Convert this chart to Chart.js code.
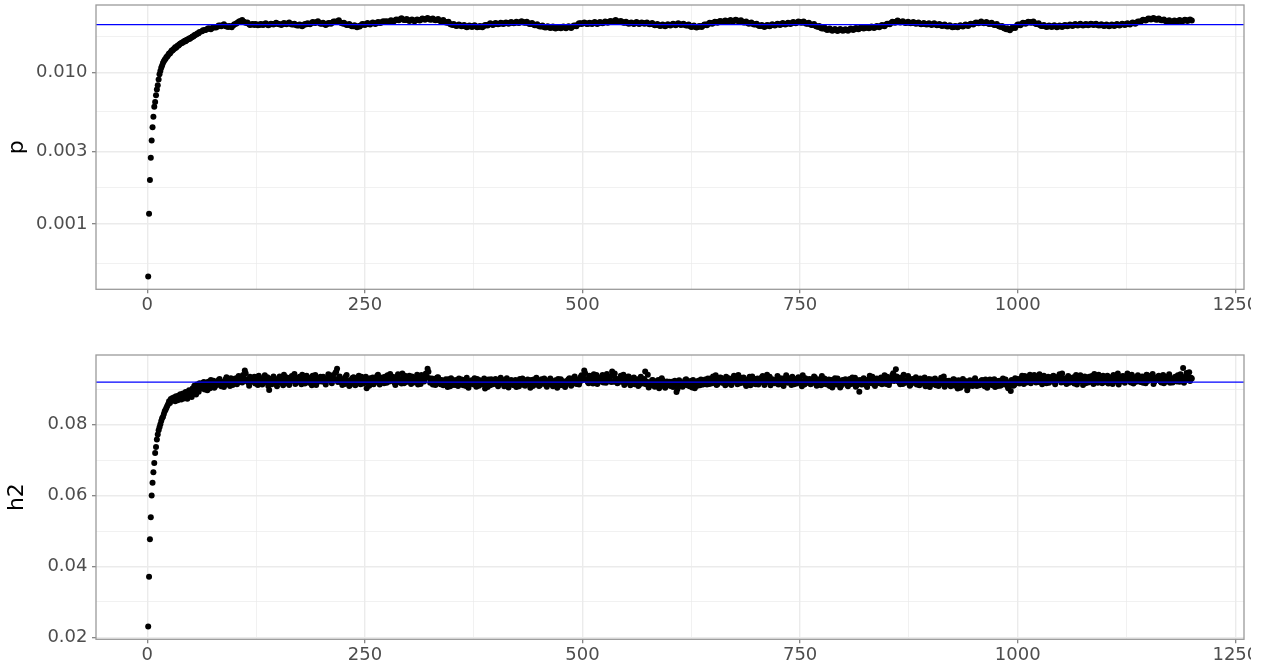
<!DOCTYPE html>
<html>
<head>
<meta charset="utf-8">
<title>MCMC trace: p and h2</title>
<script src="https://cdn.jsdelivr.net/npm/chart.js@4.4.1/dist/chart.umd.min.js"></script>
<style>
  html, body { margin: 0; padding: 0; background: #ffffff; }
  #wrap { position: relative; width: 1261px; height: 664px; overflow: hidden; background: #fff; }
  .panel { position: absolute; left: 0; width: 1251px; overflow: hidden; }
  #panelP { top: 0; height: 340px; }
  #panelH { top: 340px; height: 324px; }
  canvas { display: block; }
</style>
</head>
<body>
<div id="wrap">
  <div class="panel" id="panelP"><canvas id="chartP" width="1300" height="340"></canvas></div>
  <div class="panel" id="panelH"><canvas id="chartH" width="1300" height="324"></canvas></div>
</div>
<script>
// ---- sampler output -------------------------------------------------------
// p: every draw for iterations 1..60, then two of every three draws
// (iterations 63, 66, ... and 64, 67, ...).
const pEarly = [
  0.000453, 0.00117, 0.00195, 0.00274, 0.00356, 0.00435, 0.00509, 0.00592, 0.00638, 0.00706,
  0.00769, 0.00822, 0.00896, 0.0097, 0.0102, 0.0107, 0.0111, 0.0115, 0.0118, 0.0121,
  0.0123, 0.0126, 0.0127, 0.0130, 0.0133, 0.0133, 0.0136, 0.0139, 0.0139, 0.0142,
  0.0143, 0.0146, 0.0145, 0.0148, 0.0150, 0.0150, 0.0153, 0.0154, 0.0156, 0.0156,
  0.0158, 0.0159, 0.0161, 0.0160, 0.0163, 0.0164, 0.0165, 0.0167, 0.0166, 0.0169,
  0.0170, 0.0172, 0.0172, 0.0175, 0.0176, 0.0177, 0.0179, 0.0181, 0.0181, 0.0184
];
// iterations 63, 66, ..., 1200
const pLaterA = [
  0.0186,0.0190,0.0193,0.0194,0.0196,0.0198,0.0200,0.0203,0.0204,0.0202,
  0.0199,0.0200,0.0204,0.0209,0.0215,0.0218,0.0215,0.0211,0.0207,0.0206,
  0.0205,0.0206,0.0205,0.0207,0.0207,0.0206,0.0206,0.0208,0.0209,0.0209,
  0.0207,0.0208,0.0209,0.0210,0.0208,0.0206,0.0205,0.0203,0.0203,0.0205,
  0.0207,0.0209,0.0211,0.0213,0.0214,0.0211,0.0209,0.0207,0.0208,0.0211,
  0.0213,0.0216,0.0217,0.0213,0.0209,0.0207,0.0205,0.0203,0.0201,0.0200,
  0.0202,0.0205,0.0207,0.0208,0.0208,0.0210,0.0210,0.0211,0.0213,0.0214,
  0.0214,0.0216,0.0217,0.0218,0.0220,0.0222,0.0224,0.0223,0.0221,0.0220,
  0.0220,0.0219,0.0220,0.0221,0.0223,0.0224,0.0225,0.0224,0.0223,0.0222,
  0.0221,0.0219,0.0218,0.0215,0.0212,0.0208,0.0205,0.0204,0.0203,0.0203,
  0.0202,0.0200,0.0200,0.0201,0.0201,0.0200,0.0199,0.0200,0.0202,0.0205,
  0.0207,0.0207,0.0208,0.0209,0.0209,0.0210,0.0210,0.0211,0.0211,0.0212,
  0.0212,0.0213,0.0214,0.0214,0.0212,0.0210,0.0208,0.0206,0.0204,0.0202,
  0.0200,0.0199,0.0198,0.0198,0.0197,0.0196,0.0196,0.0197,0.0197,0.0197,
  0.0198,0.0198,0.0200,0.0203,0.0207,0.0210,0.0210,0.0210,0.0209,0.0210,
  0.0211,0.0210,0.0211,0.0212,0.0213,0.0214,0.0215,0.0216,0.0218,0.0217,
  0.0215,0.0214,0.0212,0.0211,0.0210,0.0210,0.0211,0.0210,0.0210,0.0211,
  0.0210,0.0209,0.0208,0.0206,0.0205,0.0204,0.0203,0.0203,0.0204,0.0205,
  0.0206,0.0206,0.0207,0.0207,0.0206,0.0205,0.0203,0.0201,0.0200,0.0199,
  0.0199,0.0201,0.0203,0.0206,0.0209,0.0211,0.0212,0.0214,0.0215,0.0216,
  0.0216,0.0217,0.0218,0.0218,0.0219,0.0219,0.0217,0.0215,0.0213,0.0211,
  0.0210,0.0208,0.0206,0.0204,0.0202,0.0201,0.0202,0.0203,0.0204,0.0205,
  0.0206,0.0207,0.0208,0.0208,0.0209,0.0210,0.0211,0.0212,0.0213,0.0214,
  0.0213,0.0211,0.0209,0.0207,0.0205,0.0202,0.0199,0.0196,0.0194,0.0192,
  0.0191,0.0190,0.0190,0.0189,0.0190,0.0190,0.0189,0.0190,0.0191,0.0192,
  0.0193,0.0194,0.0195,0.0196,0.0196,0.0197,0.0197,0.0198,0.0199,0.0200,
  0.0202,0.0203,0.0206,0.0209,0.0212,0.0214,0.0216,0.0215,0.0214,0.0213,
  0.0212,0.0212,0.0211,0.0211,0.0210,0.0209,0.0208,0.0208,0.0207,0.0207,
  0.0207,0.0206,0.0205,0.0204,0.0203,0.0202,0.0201,0.0200,0.0199,0.0200,
  0.0201,0.0202,0.0203,0.0204,0.0206,0.0208,0.0210,0.0212,0.0213,0.0212,
  0.0211,0.0210,0.0209,0.0207,0.0205,0.0202,0.0199,0.0196,0.0192,0.0191,
  0.0194,0.0198,0.0203,0.0206,0.0209,0.0211,0.0212,0.0214,0.0213,0.0210,
  0.0207,0.0204,0.0202,0.0201,0.0200,0.0201,0.0201,0.0200,0.0200,0.0201,
  0.0202,0.0203,0.0203,0.0204,0.0205,0.0205,0.0206,0.0205,0.0205,0.0206,
  0.0206,0.0207,0.0206,0.0205,0.0204,0.0204,0.0203,0.0203,0.0203,0.0204,
  0.0205,0.0205,0.0206,0.0207,0.0207,0.0208,0.0210,0.0211,0.0213,0.0216,
  0.0219,0.0221,0.0223,0.0225,0.0225,0.0224,0.0223,0.0222,0.0220,0.0218,
  0.0217,0.0216,0.0216,0.0217,0.0218,0.0218,0.0219,0.0220,0.0220,0.0219
];
// iterations 64, 67, ..., 1198
const pLaterB = [
  0.0189,0.0190,0.0195,0.0192,0.0199,0.0197,0.0203,0.0201,0.0207,0.0200,
  0.0202,0.0198,0.0207,0.0211,0.0217,0.0221,0.0213,0.0213,0.0205,0.0208,
  0.0208,0.0204,0.0208,0.0205,0.0210,0.0204,0.0209,0.0206,0.0212,0.0207,
  0.0205,0.0211,0.0207,0.0213,0.0206,0.0209,0.0203,0.0206,0.0201,0.0208,
  0.0210,0.0207,0.0214,0.0211,0.0217,0.0209,0.0212,0.0205,0.0211,0.0209,
  0.0216,0.0214,0.0220,0.0211,0.0212,0.0205,0.0208,0.0201,0.0204,0.0198,
  0.0200,0.0208,0.0205,0.0211,0.0206,0.0213,0.0208,0.0214,0.0211,0.0217,
  0.0217,0.0214,0.0220,0.0216,0.0223,0.0220,0.0227,0.0221,0.0224,0.0218,
  0.0223,0.0217,0.0223,0.0219,0.0226,0.0222,0.0228,0.0222,0.0226,0.0220,
  0.0224,0.0217,0.0221,0.0213,0.0215,0.0206,0.0208,0.0202,0.0206,0.0201,
  0.0205,0.0198,0.0203,0.0199,0.0204,0.0198,0.0202,0.0198,0.0205,0.0203,
  0.0210,0.0205,0.0211,0.0207,0.0212,0.0208,0.0213,0.0209,0.0214,0.0210,
  0.0215,0.0211,0.0217,0.0212,0.0215,0.0208,0.0211,0.0204,0.0207,0.0200,
  0.0203,0.0197,0.0201,0.0196,0.0200,0.0194,0.0199,0.0195,0.0200,0.0195,
  0.0201,0.0196,0.0203,0.0201,0.0210,0.0208,0.0213,0.0208,0.0212,0.0208,
  0.0214,0.0208,0.0214,0.0210,0.0216,0.0212,0.0218,0.0214,0.0221,0.0215,
  0.0218,0.0212,0.0215,0.0209,0.0213,0.0208,0.0214,0.0208,0.0213,0.0209,
  0.0213,0.0207,0.0211,0.0204,0.0208,0.0202,0.0206,0.0201,0.0207,0.0203,
  0.0209,0.0204,0.0210,0.0205,0.0209,0.0203,0.0206,0.0199,0.0203,0.0197,
  0.0202,0.0199,0.0206,0.0204,0.0212,0.0209,0.0215,0.0212,0.0218,0.0214,
  0.0219,0.0215,0.0221,0.0216,0.0222,0.0217,0.0220,0.0213,0.0216,0.0209,
  0.0213,0.0206,0.0209,0.0202,0.0205,0.0199,0.0205,0.0201,0.0207,0.0203,
  0.0209,0.0205,0.0211,0.0206,0.0212,0.0208,0.0214,0.0210,0.0216,0.0212,
  0.0216,0.0209,0.0212,0.0205,0.0208,0.0200,0.0202,0.0194,0.0197,0.0190,
  0.0194,0.0188,0.0193,0.0187,0.0193,0.0188,0.0192,0.0188,0.0194,0.0190,
  0.0196,0.0192,0.0198,0.0194,0.0199,0.0195,0.0200,0.0196,0.0202,0.0198,
  0.0205,0.0201,0.0209,0.0207,0.0215,0.0212,0.0219,0.0213,0.0217,0.0211,
  0.0215,0.0210,0.0214,0.0209,0.0213,0.0207,0.0211,0.0206,0.0210,0.0205,
  0.0210,0.0204,0.0208,0.0202,0.0206,0.0200,0.0204,0.0198,0.0202,0.0198,
  0.0204,0.0200,0.0206,0.0202,0.0209,0.0206,0.0213,0.0210,0.0216,0.0210,
  0.0214,0.0208,0.0212,0.0205,0.0208,0.0200,0.0202,0.0194,0.0195,0.0189,
  0.0197,0.0196,0.0206,0.0204,0.0212,0.0209,0.0215,0.0212,0.0216,0.0208,
  0.0210,0.0202,0.0205,0.0199,0.0203,0.0199,0.0204,0.0198,0.0203,0.0199,
  0.0205,0.0201,0.0206,0.0202,0.0208,0.0203,0.0209,0.0203,0.0208,0.0204,
  0.0209,0.0205,0.0209,0.0203,0.0207,0.0202,0.0206,0.0201,0.0206,0.0202,
  0.0208,0.0203,0.0209,0.0205,0.0210,0.0206,0.0213,0.0209,0.0216,0.0214,
  0.0222,0.0219,0.0226,0.0223,0.0228,0.0222,0.0226,0.0220,0.0223,0.0216,
  0.0220,0.0214,0.0219,0.0215,0.0221,0.0216,0.0222,0.0218,0.0223
];

// h2: every draw (1..60 burn-in, then odd and even iterations from 61 on)
const h2Early = [
  0.0231, 0.0371, 0.0477, 0.0539, 0.0600, 0.0636, 0.0666, 0.0692, 0.0720, 0.0737,
  0.0758, 0.0772, 0.0784, 0.0793, 0.0801, 0.0810, 0.0818, 0.0822, 0.0830, 0.0838,
  0.0842, 0.0848, 0.0853, 0.0858, 0.0866, 0.0861, 0.0872, 0.0868, 0.0875, 0.0870,
  0.0877, 0.0866, 0.0880, 0.0874, 0.0869, 0.0882, 0.0876, 0.0886, 0.0871, 0.0879,
  0.0888, 0.0874, 0.0884, 0.0892, 0.0880, 0.0873, 0.0889, 0.0897, 0.0883, 0.0895,
  0.0878, 0.0902, 0.0890, 0.0910, 0.0897, 0.0885, 0.0913, 0.0905, 0.0893, 0.0917
];
// even iterations 62, 64, ..., 1200
const h2Even = [
  0.0905,0.0918,0.0899,0.0912,0.0921,0.0903,0.0915,0.0924,0.0908,0.0917,
  0.0926,0.0911,0.0920,0.0906,0.0928,0.0915,0.0922,0.0931,0.0912,0.0925,
  0.0918,0.0933,0.0921,0.0929,0.0940,0.0953,0.0927,0.0919,0.0935,0.0924,
  0.0930,0.0916,0.0926,0.0938,0.0921,0.0913,0.0929,0.0924,0.0934,0.0898,
  0.0920,0.0931,0.0925,0.0917,0.0928,0.0936,0.0922,0.0911,0.0927,0.0933,
  0.0919,0.0926,0.0937,0.0924,0.0915,0.0930,0.0922,0.0928,0.0941,0.0920,
  0.0927,0.0933,0.0918,0.0925,0.0938,0.0929,0.0912,0.0924,0.0931,0.0922,
  0.0935,0.0919,0.0928,0.0942,0.0926,0.0917,0.0930,0.0946,0.0958,0.0931,
  0.0924,0.0912,0.0929,0.0936,0.0920,0.0909,0.0925,0.0932,0.0918,0.0927,
  0.0930,0.0921,0.0935,0.0916,0.0926,0.0903,0.0922,0.0931,0.0925,0.0914,
  0.0928,0.0937,0.0920,0.0926,0.0933,0.0917,0.0924,0.0939,0.0922,0.0929,
  0.0935,0.0918,0.0927,0.0942,0.0925,0.0916,0.0931,0.0938,0.0921,0.0928,
  0.0924,0.0936,0.0919,0.0930,0.0941,0.0926,0.0915,0.0933,0.0922,0.0944,
  0.0958,0.0931,0.0925,0.0913,0.0929,0.0920,0.0934,0.0918,0.0926,0.0911,
  0.0922,0.0915,0.0928,0.0908,0.0919,0.0925,0.0912,0.0921,0.0930,0.0914,
  0.0918,0.0926,0.0909,0.0920,0.0913,0.0924,0.0916,0.0931,0.0907,0.0919,
  0.0925,0.0914,0.0921,0.0902,0.0918,0.0927,0.0911,0.0923,0.0916,0.0929,
  0.0913,0.0920,0.0932,0.0917,0.0908,0.0924,0.0919,0.0912,0.0926,0.0915,
  0.0921,0.0906,0.0918,0.0929,0.0914,0.0922,0.0910,0.0925,0.0917,0.0904,
  0.0919,0.0927,0.0913,0.0921,0.0909,0.0924,0.0916,0.0930,0.0912,0.0920,
  0.0926,0.0914,0.0908,0.0922,0.0917,0.0929,0.0911,0.0923,0.0918,0.0906,
  0.0921,0.0928,0.0915,0.0924,0.0932,0.0919,0.0927,0.0913,0.0935,0.0926,
  0.0953,0.0929,0.0920,0.0938,0.0924,0.0916,0.0931,0.0940,0.0922,0.0927,
  0.0934,0.0919,0.0928,0.0943,0.0925,0.0936,0.0950,0.0921,0.0930,0.0917,
  0.0926,0.0938,0.0920,0.0912,0.0929,0.0935,0.0918,0.0924,0.0931,0.0914,
  0.0923,0.0909,0.0920,0.0928,0.0916,0.0950,0.0921,0.0905,0.0918,0.0926,
  0.0911,0.0922,0.0914,0.0903,0.0919,0.0925,0.0908,0.0917,0.0912,0.0921,
  0.0915,0.0906,0.0924,0.0892,0.0913,0.0920,0.0909,0.0918,0.0926,0.0911,
  0.0917,0.0923,0.0905,0.0914,0.0921,0.0910,0.0919,0.0927,0.0913,0.0922,
  0.0918,0.0930,0.0915,0.0924,0.0936,0.0920,0.0912,0.0927,0.0933,0.0919,
  0.0925,0.0911,0.0922,0.0931,0.0917,0.0928,0.0938,0.0921,0.0914,0.0926,
  0.0932,0.0919,0.0924,0.0909,0.0927,0.0935,0.0920,0.0916,0.0929,0.0923,
  0.0913,0.0926,0.0934,0.0918,0.0922,0.0941,0.0925,0.0911,0.0928,0.0919,
  0.0924,0.0937,0.0920,0.0915,0.0930,0.0923,0.0939,0.0918,0.0926,0.0912,
  0.0921,0.0929,0.0916,0.0934,0.0925,0.0908,0.0922,0.0931,0.0919,0.0927,
  0.0914,0.0923,0.0936,0.0920,0.0917,0.0928,0.0911,0.0924,0.0930,0.0916,
  0.0922,0.0909,0.0926,0.0918,0.0931,0.0913,0.0920,0.0905,0.0924,0.0917,
  0.0928,0.0912,0.0921,0.0916,0.0933,0.0919,0.0907,0.0925,0.0893,0.0914,
  0.0920,0.0927,0.0911,0.0924,0.0938,0.0917,0.0922,0.0909,0.0930,0.0918,
  0.0925,0.0914,0.0929,0.0921,0.0935,0.0912,0.0927,0.0940,0.0923,0.0956,
  0.0928,0.0919,0.0933,0.0915,0.0926,0.0921,0.0937,0.0910,0.0924,0.0918,
  0.0927,0.0913,0.0922,0.0930,0.0916,0.0925,0.0908,0.0921,0.0929,0.0914,
  0.0920,0.0926,0.0911,0.0923,0.0918,0.0932,0.0915,0.0907,0.0924,0.0919,
  0.0913,0.0921,0.0928,0.0910,0.0917,0.0925,0.0904,0.0919,0.0912,0.0923,
  0.0897,0.0916,0.0922,0.0909,0.0926,0.0914,0.0920,0.0911,0.0924,0.0917,
  0.0908,0.0921,0.0915,0.0927,0.0913,0.0919,0.0906,0.0923,0.0916,0.0910,
  0.0922,0.0914,0.0927,0.0909,0.0918,0.0895,0.0924,0.0912,0.0920,0.0929,
  0.0916,0.0931,0.0924,0.0937,0.0919,0.0928,0.0941,0.0922,0.0933,0.0926,
  0.0935,0.0920,0.0929,0.0914,0.0938,0.0925,0.0931,0.0918,0.0927,0.0936,
  0.0921,0.0933,0.0926,0.0942,0.0919,0.0930,0.0924,0.0915,0.0937,0.0928,
  0.0920,0.0934,0.0927,0.0913,0.0929,0.0939,0.0922,0.0931,0.0917,0.0926,
  0.0935,0.0921,0.0928,0.0943,0.0924,0.0918,0.0932,0.0926,0.0938,0.0920,
  0.0929,0.0916,0.0934,0.0925,0.0940,0.0922,0.0931,0.0913,0.0927,0.0936,
  0.0923,0.0930,0.0944,0.0926,0.0919,0.0935,0.0928,0.0921,0.0939,0.0925,
  0.0932,0.0918,0.0927,0.0941,0.0924,0.0936,0.0929,0.0915,0.0933,0.0926,
  0.0938,0.0922,0.0930,0.0917,0.0935,0.0927,0.0942,0.0924,0.0919,0.0931,
  0.0926,0.0939,0.0921,0.0933,0.0960,0.0928,0.0946,0.0935,0.0923,0.0930
];
// odd iterations 61, 63, ..., 1199
const h2Odd = [
  0.0911,0.0902,0.0920,0.0914,0.0897,0.0909,0.0926,0.0913,0.0904,0.0921,
  0.0916,0.0929,0.0908,0.0919,0.0912,0.0934,0.0918,0.0909,0.0927,0.0920,
  0.0930,0.0914,0.0937,0.0925,0.0919,0.0931,0.0945,0.0922,0.0910,0.0928,
  0.0921,0.0935,0.0918,0.0912,0.0932,0.0927,0.0916,0.0939,0.0920,0.0909,
  0.0928,0.0914,0.0936,0.0922,0.0908,0.0930,0.0919,0.0926,0.0941,0.0917,
  0.0932,0.0912,0.0923,0.0929,0.0943,0.0918,0.0925,0.0935,0.0914,0.0927,
  0.0916,0.0938,0.0922,0.0931,0.0911,0.0926,0.0940,0.0919,0.0928,0.0935,
  0.0923,0.0930,0.0913,0.0925,0.0937,0.0921,0.0939,0.0928,0.0949,0.0920,
  0.0936,0.0919,0.0927,0.0915,0.0940,0.0923,0.0912,0.0929,0.0934,0.0911,
  0.0925,0.0938,0.0914,0.0929,0.0921,0.0935,0.0917,0.0910,0.0928,0.0933,
  0.0919,0.0926,0.0941,0.0913,0.0930,0.0922,0.0935,0.0918,0.0927,0.0943,
  0.0924,0.0931,0.0912,0.0936,0.0920,0.0929,0.0944,0.0917,0.0933,0.0922,
  0.0938,0.0915,0.0927,0.0920,0.0934,0.0913,0.0929,0.0940,0.0925,0.0931,
  0.0936,0.0949,0.0918,0.0930,0.0922,0.0912,0.0933,0.0927,0.0914,0.0924,
  0.0915,0.0928,0.0906,0.0923,0.0931,0.0912,0.0918,0.0926,0.0909,0.0921,
  0.0927,0.0911,0.0920,0.0932,0.0904,0.0917,0.0925,0.0913,0.0922,0.0929,
  0.0910,0.0924,0.0917,0.0930,0.0912,0.0906,0.0921,0.0928,0.0914,0.0919,
  0.0925,0.0908,0.0916,0.0927,0.0921,0.0913,0.0931,0.0905,0.0918,0.0924,
  0.0911,0.0926,0.0915,0.0908,0.0923,0.0930,0.0912,0.0919,0.0927,0.0914,
  0.0926,0.0909,0.0920,0.0932,0.0914,0.0911,0.0928,0.0917,0.0923,0.0907,
  0.0915,0.0930,0.0921,0.0912,0.0925,0.0904,0.0919,0.0928,0.0911,0.0922,
  0.0914,0.0925,0.0931,0.0910,0.0920,0.0936,0.0915,0.0924,0.0921,0.0939,
  0.0930,0.0945,0.0925,0.0917,0.0934,0.0928,0.0942,0.0921,0.0915,0.0933,
  0.0922,0.0940,0.0931,0.0918,0.0935,0.0926,0.0920,0.0938,0.0944,0.0925,
  0.0919,0.0930,0.0927,0.0941,0.0916,0.0923,0.0936,0.0911,0.0928,0.0933,
  0.0917,0.0928,0.0912,0.0935,0.0922,0.0929,0.0914,0.0941,0.0910,0.0920,
  0.0925,0.0907,0.0918,0.0926,0.0912,0.0931,0.0916,0.0904,0.0922,0.0915,
  0.0909,0.0921,0.0912,0.0917,0.0900,0.0925,0.0914,0.0907,0.0920,0.0928,
  0.0912,0.0908,0.0919,0.0926,0.0903,0.0917,0.0924,0.0911,0.0920,0.0914,
  0.0927,0.0913,0.0922,0.0930,0.0917,0.0925,0.0939,0.0914,0.0921,0.0932,
  0.0918,0.0929,0.0935,0.0916,0.0924,0.0912,0.0931,0.0922,0.0927,0.0940,
  0.0917,0.0926,0.0933,0.0915,0.0921,0.0929,0.0911,0.0936,0.0924,0.0914,
  0.0930,0.0918,0.0925,0.0937,0.0912,0.0929,0.0920,0.0935,0.0916,0.0923,
  0.0917,0.0928,0.0913,0.0931,0.0924,0.0909,0.0927,0.0934,0.0920,0.0929,
  0.0935,0.0914,0.0926,0.0919,0.0930,0.0922,0.0939,0.0913,0.0925,0.0918,
  0.0929,0.0916,0.0921,0.0933,0.0910,0.0926,0.0919,0.0937,0.0915,0.0922,
  0.0913,0.0927,0.0918,0.0905,0.0925,0.0921,0.0930,0.0914,0.0910,0.0926,
  0.0919,0.0924,0.0908,0.0929,0.0915,0.0922,0.0932,0.0911,0.0918,0.0926,
  0.0913,0.0931,0.0919,0.0906,0.0927,0.0923,0.0935,0.0914,0.0921,0.0928,
  0.0917,0.0933,0.0922,0.0939,0.0915,0.0929,0.0920,0.0931,0.0945,0.0925,
  0.0936,0.0922,0.0914,0.0927,0.0941,0.0918,0.0925,0.0930,0.0913,0.0929,
  0.0920,0.0934,0.0917,0.0911,0.0928,0.0921,0.0933,0.0916,0.0924,0.0906,
  0.0927,0.0915,0.0930,0.0919,0.0909,0.0925,0.0922,0.0936,0.0912,0.0917,
  0.0924,0.0908,0.0919,0.0927,0.0914,0.0902,0.0922,0.0916,0.0929,0.0910,
  0.0918,0.0906,0.0925,0.0913,0.0920,0.0931,0.0909,0.0917,0.0915,0.0926,
  0.0914,0.0927,0.0904,0.0918,0.0922,0.0911,0.0928,0.0915,0.0909,0.0924,
  0.0912,0.0930,0.0917,0.0921,0.0903,0.0915,0.0926,0.0910,0.0931,0.0918,
  0.0924,0.0920,0.0938,0.0915,0.0930,0.0926,0.0934,0.0917,0.0929,0.0940,
  0.0919,0.0928,0.0942,0.0925,0.0921,0.0933,0.0917,0.0935,0.0924,0.0930,
  0.0938,0.0914,0.0929,0.0936,0.0926,0.0944,0.0920,0.0931,0.0923,0.0918,
  0.0930,0.0925,0.0916,0.0940,0.0921,0.0934,0.0927,0.0912,0.0936,0.0924,
  0.0919,0.0930,0.0937,0.0915,0.0932,0.0926,0.0941,0.0923,0.0917,0.0933,
  0.0925,0.0938,0.0921,0.0929,0.0915,0.0934,0.0927,0.0944,0.0920,0.0931,
  0.0937,0.0918,0.0928,0.0935,0.0922,0.0941,0.0916,0.0930,0.0926,0.0934,
  0.0920,0.0936,0.0929,0.0917,0.0939,0.0925,0.0932,0.0943,0.0921,0.0928,
  0.0926,0.0934,0.0919,0.0940,0.0928,0.0922,0.0936,0.0918,0.0931,0.0925,
  0.0935,0.0922,0.0929,0.0942,0.0927,0.0918,0.0937,0.0926,0.0948,0.0932
];

// reference values drawn as horizontal lines
const pTrue = 0.0206;
const h2True = 0.092;

// axis breaks
const xBreaks = [0, 250, 500, 750, 1000, 1250];
const pBreaks = [0.0003, 0.001, 0.003, 0.01, 0.03];
const pBreakLabels = ['0.0003', '0.001', '0.003', '0.010', '0.030'];
const h2Breaks = [0.02, 0.04, 0.06, 0.08, 0.10];
const h2BreakLabels = ['0.02', '0.04', '0.06', '0.08', '0.10'];

// ---- helpers ----------------------------------------------------------------
// each block: values recorded from iteration `start` every `step` iterations
function toPoints(blocks) {
  const pts = [];
  blocks.forEach(b => b.values.forEach((v, k) => pts.push({ x: b.start + k * b.step, y: v })));
  return pts;
}

// data range widened by 5% on each side (optionally in log space)
function expandedRange(values, log) {
  const t = log ? values.map(Math.log10) : values;
  const lo = Math.min(...t), hi = Math.max(...t);
  const pad = (hi - lo) * 0.05;
  return log ? [Math.pow(10, lo - pad), Math.pow(10, hi + pad)] : [lo - pad, hi + pad];
}

// minor grid sits halfway between neighbouring breaks (geometric mean on log axes)
function minorsBetween(breaks, log) {
  const out = [];
  for (let i = 0; i < breaks.length - 1; i++) {
    out.push(log ? Math.sqrt(breaks[i] * breaks[i + 1]) : (breaks[i] + breaks[i + 1]) / 2);
  }
  return out;
}

const pPoints = toPoints([
  { values: pEarly, start: 1, step: 1 },
  { values: pLaterA, start: 63, step: 3 },
  { values: pLaterB, start: 64, step: 3 }
]);
const h2Points = toPoints([
  { values: h2Early, start: 1, step: 1 },
  { values: h2Odd, start: 61, step: 2 },
  { values: h2Even, start: 62, step: 2 }
]);

const xRange = expandedRange(pPoints.map(d => d.x), false);
const pRange = expandedRange(pPoints.map(d => d.y), true);
const h2Range = expandedRange(h2Points.map(d => d.y), false);

const xMinorBreaks = minorsBetween([-250].concat(xBreaks), false);
const pMinorBreaks = minorsBetween(pBreaks, true);
const h2MinorBreaks = minorsBetween([0].concat(h2Breaks), false);

const TICK_FONT = { family: 'DejaVu Sans', size: 18 };
const TITLE_FONT = { family: 'DejaVu Sans', size: 22 };
const TICK_TEXT = '#4d4d4d';
const GRID = '#ebebeb';

function within(v, range) { return v >= range[0] && v <= range[1]; }

function gridFor(majors) {
  const isMajor = c => c.tick && majors.some(m => Math.abs(m - c.tick.value) <= Math.abs(m) * 1e-9);
  return {
    display: true,
    drawOnChartArea: true,
    drawTicks: true,
    tickLength: 4,
    tickWidth: 1.2,
    color: c => GRID,
    lineWidth: c => (isMajor(c) ? 1.4 : 0.7),
    tickColor: c => (isMajor(c) ? '#7a7a7a' : 'rgba(0,0,0,0)')
  };
}

// the panel box is fixed by the layout padding, not by label overhang
function clearScalePadding(s) {
  s.paddingTop = 0; s.paddingBottom = 0; s.paddingLeft = 0; s.paddingRight = 0;
}

function xAxis(axisHeight) {
  const majors = xBreaks.filter(v => within(v, xRange));
  const all = majors.concat(xMinorBreaks.filter(v => within(v, xRange))).sort((a, b) => a - b);
  return {
    type: 'linear',
    min: xRange[0],
    max: xRange[1],
    afterBuildTicks: s => { s.ticks = all.map(v => ({ value: v })); },
    ticks: {
      autoSkip: false,
      maxRotation: 0,
      minRotation: 0,
      padding: 1,
      color: TICK_TEXT,
      font: TICK_FONT,
      callback: v => (majors.includes(v) ? String(v) : '')
    },
    grid: gridFor(majors),
    border: { display: false },
    afterFit: s => { s.height = axisHeight; clearScalePadding(s); }
  };
}

function yAxis(type, range, breaks, labels, minors, title) {
  const majors = breaks.filter(v => within(v, range));
  const all = majors.concat(minors.filter(v => within(v, range))).sort((a, b) => a - b);
  return {
    type: type,
    min: range[0],
    max: range[1],
    afterBuildTicks: s => { s.ticks = all.map(v => ({ value: v })); },
    ticks: {
      autoSkip: false,
      padding: 4.5,
      color: TICK_TEXT,
      font: TICK_FONT,
      callback: v => {
        const i = breaks.findIndex(b => Math.abs(b - v) <= Math.abs(b) * 1e-9);
        return i >= 0 ? labels[i] : '';
      }
    },
    grid: gridFor(majors),
    border: { display: false },
    title: { display: true, text: title, color: '#000000', font: TITLE_FONT, padding: { top: 4, bottom: 0 } },
    afterFit: s => { s.width = 96; clearScalePadding(s); }
  };
}

// panel outline, drawn over everything like a plot frame
const panelFrame = {
  id: 'panelFrame',
  afterDraw(chart) {
    const a = chart.chartArea, ctx = chart.ctx;
    ctx.save();
    ctx.strokeStyle = '#9a9a9a';
    ctx.lineWidth = 1.3;
    ctx.strokeRect(a.left, a.top, a.right - a.left, a.bottom - a.top);
    ctx.restore();
  }
};

function makeChart(canvasId, points, trueValue, yScale, padTop, axisHeight) {
  return new Chart(document.getElementById(canvasId), {
    type: 'scatter',
    data: {
      datasets: [
        {
          type: 'line',
          data: [{ x: xRange[0], y: trueValue }, { x: xRange[1], y: trueValue }],
          borderColor: '#0000ff',
          borderWidth: 1.3,
          pointRadius: 0,
          fill: false,
          order: 0
        },
        {
          type: 'scatter',
          data: points,
          backgroundColor: '#000000',
          borderColor: '#000000',
          borderWidth: 0,
          pointRadius: 3,
          pointHoverRadius: 3,
          order: 1
        }
      ]
    },
    options: {
      responsive: false,
      animation: false,
      events: [],
      layout: { padding: { top: padTop, right: 56, bottom: 0, left: 0 } },
      plugins: { legend: { display: false }, tooltip: { enabled: false } },
      scales: { x: xAxis(axisHeight), y: yScale }
    },
    plugins: [panelFrame]
  });
}

makeChart('chartP', pPoints, pTrue,
  yAxis('logarithmic', pRange, pBreaks, pBreakLabels, pMinorBreaks, 'p'), 5, 50.7);
makeChart('chartH', h2Points, h2True,
  yAxis('linear', h2Range, h2Breaks, h2BreakLabels, h2MinorBreaks, 'h2'), 15, 24.7);
</script>
</body>
</html>
